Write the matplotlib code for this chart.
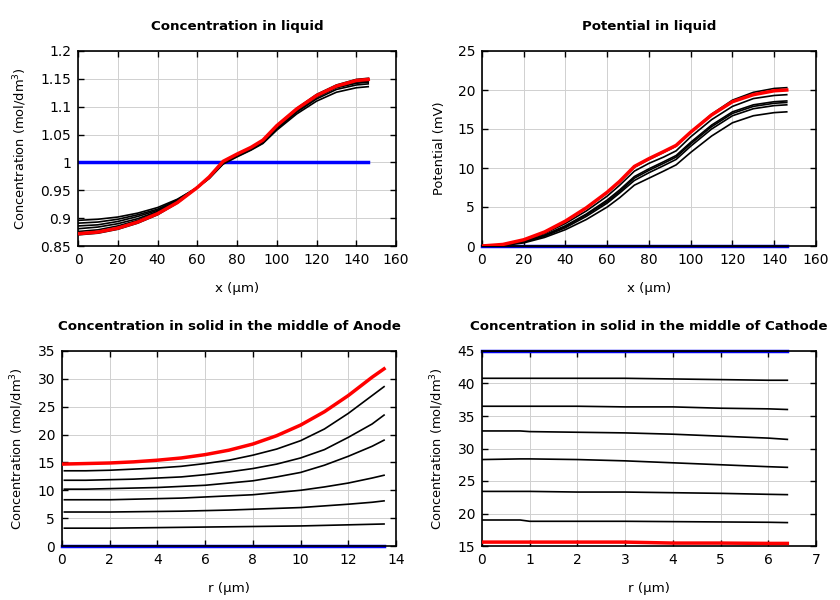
import matplotlib
matplotlib.use("Agg")
import matplotlib.pyplot as plt

# ---------- Concentration in liquid ----------
x_liq = [0, 10, 20, 30, 40, 50, 60, 66, 73, 80, 87, 93, 100, 110, 120, 130, 140, 146]
cl_init = [1.0] * len(x_liq)
cl_black = [
    [0.896, 0.898, 0.902, 0.909, 0.919, 0.934, 0.955, 0.971, 0.997, 1.010, 1.022, 1.034, 1.058, 1.087, 1.110, 1.126, 1.134, 1.136],
    [0.891, 0.893, 0.898, 0.906, 0.916, 0.933, 0.955, 0.972, 0.998, 1.011, 1.023, 1.035, 1.060, 1.090, 1.114, 1.131, 1.139, 1.141],
    [0.886, 0.888, 0.894, 0.903, 0.914, 0.931, 0.955, 0.972, 0.999, 1.012, 1.024, 1.036, 1.062, 1.092, 1.117, 1.134, 1.142, 1.144],
    [0.881, 0.884, 0.890, 0.899, 0.912, 0.930, 0.955, 0.973, 1.000, 1.013, 1.025, 1.037, 1.063, 1.094, 1.118, 1.136, 1.144, 1.146],
    [0.876, 0.879, 0.886, 0.896, 0.910, 0.929, 0.955, 0.973, 1.001, 1.014, 1.026, 1.038, 1.064, 1.095, 1.120, 1.137, 1.146, 1.148],
    [0.870, 0.873, 0.880, 0.891, 0.906, 0.927, 0.955, 0.974, 1.002, 1.015, 1.027, 1.039, 1.066, 1.097, 1.122, 1.139, 1.149, 1.151],
]
cl_red = [0.872, 0.875, 0.882, 0.893, 0.908, 0.928, 0.955, 0.974, 1.002, 1.015, 1.027, 1.040, 1.066, 1.096, 1.120, 1.137, 1.147, 1.149]

# ---------- Potential in liquid ----------
pl_init = [0.0] * len(x_liq)
pl_black = [
    [0.0, 0.2, 0.8, 1.8, 3.2, 4.9, 6.8, 8.2, 10.1, 11.1, 12.0, 12.8, 14.6, 16.9, 18.7, 19.7, 20.2, 20.3],
    [0.0, 0.15, 0.7, 1.6, 2.9, 4.5, 6.4, 7.8, 9.6, 10.6, 11.4, 12.2, 14.0, 16.2, 17.9, 18.9, 19.3, 19.4],
    [0.0, 0.1, 0.6, 1.4, 2.6, 4.1, 5.9, 7.2, 8.9, 9.9, 10.8, 11.6, 13.3, 15.5, 17.2, 18.1, 18.5, 18.6],
    [0.0, 0.1, 0.55, 1.35, 2.5, 4.0, 5.7, 7.0, 8.7, 9.7, 10.6, 11.4, 13.1, 15.3, 17.0, 17.9, 18.3, 18.4],
    [0.0, 0.1, 0.5, 1.25, 2.35, 3.8, 5.5, 6.8, 8.4, 9.4, 10.3, 11.1, 12.8, 15.0, 16.7, 17.6, 18.0, 18.1],
    [0.0, 0.05, 0.4, 1.1, 2.1, 3.4, 5.0, 6.2, 7.8, 8.7, 9.6, 10.4, 12.0, 14.1, 15.8, 16.7, 17.1, 17.2],
]
pl_red = [0.0, 0.2, 0.8, 1.8, 3.2, 4.9, 6.9, 8.3, 10.2, 11.2, 12.1, 12.9, 14.6, 16.8, 18.5, 19.4, 19.9, 20.0]

# ---------- Concentration in solid, anode ----------
r_an = [0, 1, 2, 3, 4, 5, 6, 7, 8, 9, 10, 11, 12, 13, 13.5]
r_an_b = [0.1, 1, 2, 3, 4, 5, 6, 7, 8, 9, 10, 11, 12, 13, 13.5]
ca_init = [0.0] * len(r_an)
ca_black = [
    [13.5, 13.5, 13.6, 13.8, 14.0, 14.3, 14.8, 15.4, 16.3, 17.4, 18.9, 21.0, 23.8, 27.0, 28.6],
    [11.8, 11.8, 11.9, 12.0, 12.2, 12.4, 12.8, 13.3, 13.9, 14.7, 15.8, 17.3, 19.5, 21.9, 23.5],
    [10.2, 10.2, 10.3, 10.4, 10.5, 10.7, 10.9, 11.3, 11.7, 12.4, 13.2, 14.5, 16.1, 17.9, 19.0],
    [8.3, 8.3, 8.3, 8.4, 8.5, 8.6, 8.8, 9.0, 9.2, 9.6, 10.0, 10.6, 11.3, 12.2, 12.7],
    [6.1, 6.1, 6.1, 6.15, 6.2, 6.25, 6.35, 6.45, 6.6, 6.75, 6.9, 7.2, 7.5, 7.85, 8.1],
    [3.2, 3.2, 3.2, 3.25, 3.3, 3.35, 3.4, 3.45, 3.5, 3.55, 3.6, 3.7, 3.8, 3.9, 3.95],
]
ca_red = [14.7, 14.8, 14.9, 15.1, 15.4, 15.8, 16.4, 17.2, 18.3, 19.8, 21.7, 24.1, 27.0, 30.3, 31.8]

# ---------- Concentration in solid, cathode ----------
r_ca = [0, 0.8, 1, 2, 3, 4, 5, 6, 6.4]
cc_init = [45.0] * len(r_ca)
cc_black = [
    [40.8, 40.8, 40.8, 40.8, 40.8, 40.7, 40.6, 40.5, 40.5],
    [36.5, 36.5, 36.5, 36.5, 36.4, 36.4, 36.2, 36.1, 36.0],
    [32.7, 32.7, 32.6, 32.5, 32.4, 32.2, 31.9, 31.6, 31.4],
    [28.3, 28.4, 28.4, 28.3, 28.1, 27.8, 27.5, 27.2, 27.1],
    [23.4, 23.4, 23.4, 23.3, 23.3, 23.2, 23.1, 22.95, 22.9],
    [19.0, 19.0, 18.8, 18.8, 18.8, 18.75, 18.7, 18.65, 18.6],
]
cc_red = [15.6, 15.6, 15.6, 15.6, 15.6, 15.45, 15.45, 15.4, 15.4]

plt.rcParams['font.family'] = ['DejaVu Sans']
fig = plt.figure(figsize=(8.4, 6), dpi=100)

ax1 = fig.add_axes([0.0929, 0.59, 0.3786, 0.325])
ax2 = fig.add_axes([0.5738, 0.59, 0.3976, 0.325])
ax3 = fig.add_axes([0.0738, 0.09, 0.3976, 0.325])
ax4 = fig.add_axes([0.5738, 0.09, 0.3976, 0.325])

conc_label = r'Concentration (mol/dm$^3$)'

def style(ax, title, xlabel, ylabel, xlim, xticks, ylim, yticks, yfmt=None):
    ax.set_title(title, fontsize=9.6, fontweight='bold', pad=15)
    ax.set_xlabel(xlabel, fontsize=9.6, labelpad=11)
    ax.set_ylabel(ylabel, fontsize=9.4, labelpad=8)
    ax.set_xlim(*xlim)
    ax.set_ylim(*ylim)
    ax.set_xticks(xticks)
    ax.set_yticks(yticks)
    if yfmt is not None:
        ax.set_yticklabels(yfmt)
    ax.grid(True, color='#d0d0d0', linewidth=0.7)
    ax.set_axisbelow(True)
    ax.tick_params(direction='in', top=True, right=True, length=4, width=1,
                   labelsize=10, pad=5)
    for s in ax.spines.values():
        s.set_linewidth(1.2)

# Panel 1
ax1.plot(x_liq, cl_init, color='blue', lw=2.5, zorder=2)
for c in cl_black:
    ax1.plot(x_liq, c, color='black', lw=1.2, zorder=3)
ax1.plot(x_liq, cl_red, color='red', lw=2.5, zorder=4)
yt1 = [0.85, 0.9, 0.95, 1.0, 1.05, 1.1, 1.15, 1.2]
style(ax1, 'Concentration in liquid', 'x (µm)', conc_label, (0, 160),
      range(0, 161, 20), (0.85, 1.2), yt1,
      ['0.85', '0.9', '0.95', '1', '1.05', '1.1', '1.15', '1.2'])

# Panel 2
ax2.plot(x_liq, pl_init, color='blue', lw=2.5, zorder=2, clip_on=False)
ax2.plot(x_liq, pl_init, color='black', lw=1.0, zorder=3, clip_on=False)
for c in pl_black:
    ax2.plot(x_liq, c, color='black', lw=1.2, zorder=3)
ax2.plot(x_liq, pl_red, color='red', lw=2.5, zorder=4)
style(ax2, 'Potential in liquid', 'x (µm)', 'Potential (mV)', (0, 160),
      range(0, 161, 20), (0, 25), range(0, 26, 5))

# Panel 3
ax3.plot(r_an, ca_init, color='blue', lw=2.5, zorder=2, clip_on=False)
for c in ca_black:
    ax3.plot(r_an_b, c, color='black', lw=1.2, zorder=3)
ax3.plot(r_an, ca_red, color='red', lw=2.5, zorder=4)
style(ax3, 'Concentration in solid in the middle of Anode', 'r (µm)', conc_label,
      (0, 14), range(0, 15, 2), (0, 35), range(0, 36, 5))

# Panel 4
ax4.plot(r_ca, cc_init, color='blue', lw=2.5, zorder=2, clip_on=False)
ax4.plot(r_ca, cc_init, color='black', lw=0.8, zorder=3, clip_on=False)
for c in cc_black:
    ax4.plot(r_ca, c, color='black', lw=1.2, zorder=3)
ax4.plot(r_ca, cc_red, color='red', lw=2.5, zorder=4)
style(ax4, 'Concentration in solid in the middle of Cathode', 'r (µm)', conc_label,
      (0, 7), range(0, 8, 1), (15, 45), range(15, 46, 5))

fig.savefig('out.png', dpi=100)
